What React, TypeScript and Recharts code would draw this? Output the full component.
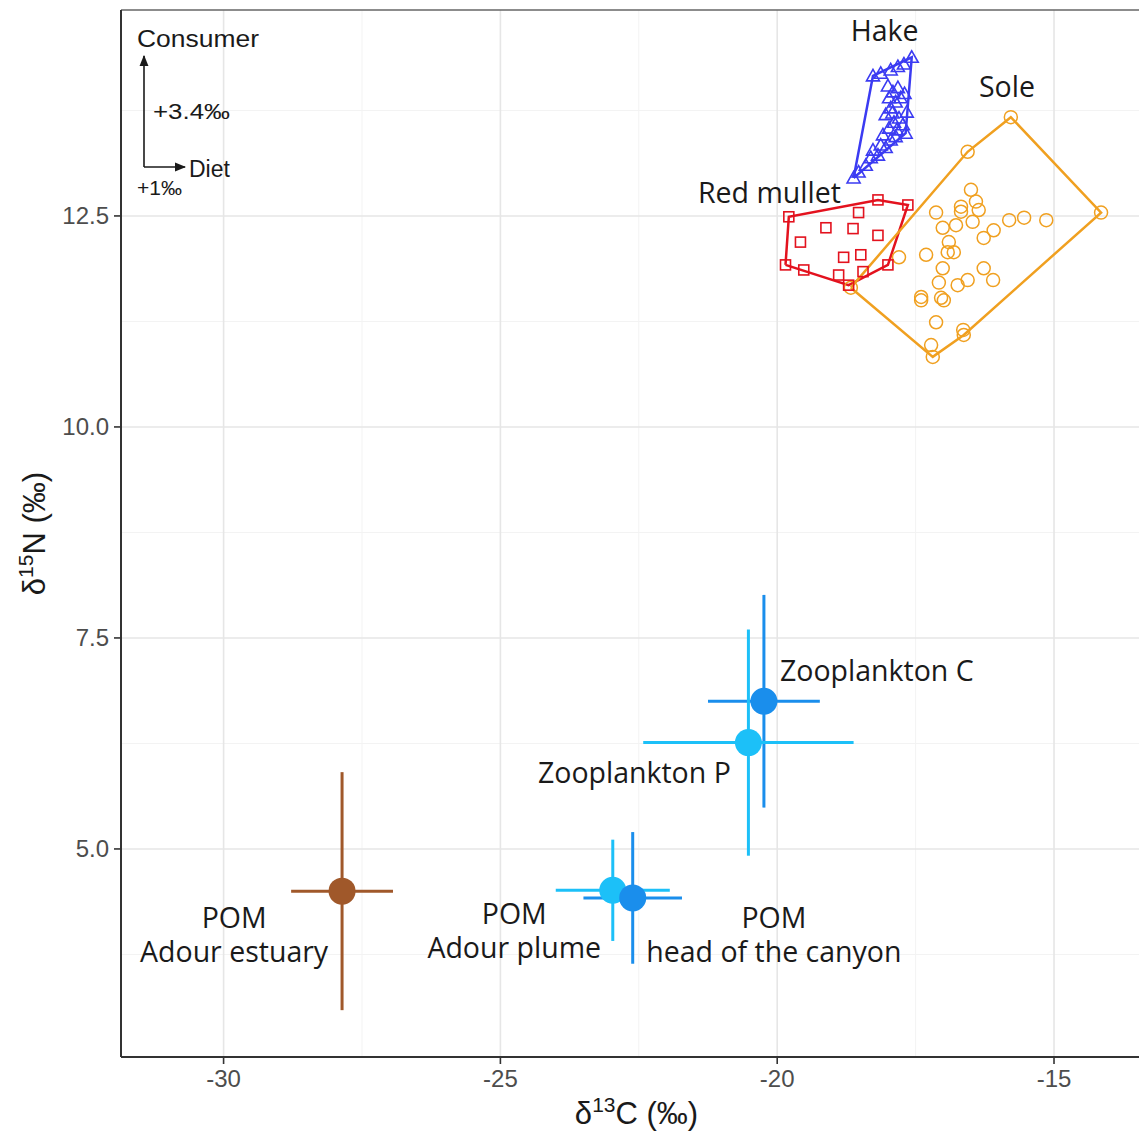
import React from 'react';
import {
  ScatterChart,
  Scatter,
  XAxis,
  YAxis,
  CartesianGrid,
  ErrorBar,
  ReferenceLine,
} from 'recharts';

// axes
const X_MIN = -31.853;
const X_MAX = -13.23;
const Y_MIN = 2.535;
const Y_MAX = 14.94;
const X_TICKS = [-30, -25, -20, -15];
const X_MINOR = [-27.5, -22.5, -17.5];
const Y_TICKS = [5, 7.5, 10, 12.5];
const Y_MINOR = [3.75, 6.25, 8.75, 11.25, 13.75];

// consumers: [d13C, d15N]
const hake: [number, number][] = [
  [-18.62, 12.95], [-18.53, 13.02], [-18.40, 13.10], [-18.31, 13.19], [-18.18, 13.22],
  [-18.27, 13.28], [-18.13, 13.34], [-18.04, 13.31], [-17.95, 13.40], [-17.86, 13.44],
  [-17.68, 13.48], [-18.09, 13.46], [-17.98, 13.54], [-17.89, 13.61], [-17.80, 13.66],
  [-17.66, 13.73], [-18.04, 13.70], [-17.95, 13.78], [-17.86, 13.85], [-17.77, 13.90],
  [-17.98, 13.90], [-17.91, 13.97], [-17.82, 14.02], [-18.00, 14.04], [-18.27, 14.16],
  [-18.13, 14.19], [-17.95, 14.23], [-17.82, 14.27], [-17.71, 14.30], [-17.57, 14.38],
  [-17.73, 13.58], [-17.70, 13.95], [-17.92, 13.72], [-17.84, 13.52],
];

const redMullet: [number, number][] = [
  [-19.79, 12.49], [-18.18, 12.69], [-17.64, 12.63], [-18.53, 12.54], [-19.12, 12.36],
  [-18.63, 12.35], [-18.18, 12.27], [-19.58, 12.19], [-19.85, 11.92], [-19.52, 11.86],
  [-18.80, 12.01], [-18.49, 12.04], [-18.00, 11.92], [-18.89, 11.80], [-18.45, 11.84],
  [-18.71, 11.68],
];

const sole: [number, number][] = [
  [-15.78, 13.67], [-16.56, 13.26], [-14.15, 12.54], [-17.19, 10.83], [-17.22, 10.97],
  [-16.64, 11.15], [-16.63, 11.09], [-17.13, 11.24], [-17.40, 11.50], [-17.40, 11.54],
  [-17.04, 11.53], [-16.99, 11.50], [-17.08, 11.71], [-16.74, 11.68], [-16.56, 11.74],
  [-16.27, 11.88], [-16.10, 11.74], [-17.01, 11.88], [-17.31, 12.04], [-16.92, 12.07],
  [-16.81, 12.07], [-16.90, 12.19], [-17.01, 12.36], [-17.13, 12.54], [-16.77, 12.39],
  [-16.68, 12.61], [-16.68, 12.55], [-16.50, 12.81], [-16.41, 12.67], [-16.36, 12.57],
  [-16.47, 12.43], [-16.27, 12.24], [-16.09, 12.33], [-15.81, 12.45], [-15.54, 12.48],
  [-15.14, 12.45], [-17.80, 12.01], [-18.67, 11.65],
];

// sources: mean +/- sd
const SOURCE_NAMES = ['POM Adour estuary', 'POM Adour plume', 'POM head of the canyon', 'Zooplankton C', 'Zooplankton P'];
const SOURCE_D13C = [-27.86, -22.97, -22.61, -20.24, -20.52];
const SOURCE_D15N = [4.50, 4.51, 4.42, 6.75, 6.26];
const SOURCE_SD13C = [0.92, 1.03, 0.89, 1.01, 1.90];
const SOURCE_SD15N = [1.41, 0.60, 0.78, 1.26, 1.34];
const SOURCE_COLORS = ['#A0582A', '#1CC0F8', '#1A8EEC', '#1A8EEC', '#1CC0F8'];

// label anchors for text (data units)
const LABEL_TEXT = ['Hake', 'Sole', 'Red mullet', 'Zooplankton C', 'Zooplankton P', 'POM\nAdour estuary', 'POM\nAdour plume', 'POM\nhead of the canyon'];
const LABEL_X = [-18.06, -15.85, -20.14, -18.20, -22.58, -29.81, -24.75, -20.06];
const LABEL_Y = [14.70, 14.04, 12.78, 7.12, 5.91, 3.99, 4.04, 3.99];

const HAKE_COLOR = '#3B3BF2';
const MULLET_COLOR = '#E3121E';
const SOLE_COLOR = '#F0A020';

const toPts = (arr: [number, number][]) => arr.map(([x, y]) => ({ x, y }));

function convexHull(pts: { x: number; y: number }[]) {
  const p = [...pts].sort((a, b) => a.x - b.x || a.y - b.y);
  const cross = (o: any, a: any, b: any) => (a.x - o.x) * (b.y - o.y) - (a.y - o.y) * (b.x - o.x);
  const lower: any[] = [];
  for (const q of p) {
    while (lower.length >= 2 && cross(lower[lower.length - 2], lower[lower.length - 1], q) <= 0) lower.pop();
    lower.push(q);
  }
  const upper: any[] = [];
  for (const q of [...p].reverse()) {
    while (upper.length >= 2 && cross(upper[upper.length - 2], upper[upper.length - 1], q) <= 0) upper.pop();
    upper.push(q);
  }
  upper.pop();
  lower.pop();
  const h = lower.concat(upper);
  return [...h, h[0]];
}

const LABEL_FONT = '"Open Sans", "Noto Sans", sans-serif';
const AXIS_FONT = '"Liberation Sans", Arial, sans-serif';

const Triangle = (props: any) => {
  const { cx, cy } = props;
  return (
    <polygon
      points={`${cx},${cy - 6.5} ${cx - 6.5},${cy + 5} ${cx + 6.5},${cy + 5}`}
      fill="none"
      stroke={HAKE_COLOR}
      strokeWidth={1.6}
    />
  );
};

const Square = (props: any) => {
  const { cx, cy } = props;
  return <rect x={cx - 5} y={cy - 5} width={10} height={10} fill="none" stroke={MULLET_COLOR} strokeWidth={1.6} />;
};

const Ring = (props: any) => {
  const { cx, cy } = props;
  return <circle cx={cx} cy={cy} r={6.5} fill="none" stroke={SOLE_COLOR} strokeWidth={1.5} />;
};

const Nothing = () => <g />;

const TextMark = (props: any) => {
  const { cx, cy, payload } = props;
  const lines: string[] = payload.text.split('\n');
  const lh = 34;
  const y0 = cy - ((lines.length - 1) * lh) / 2;
  return (
    <text x={cx} y={y0} textAnchor="middle" dominantBaseline="central" fontFamily={LABEL_FONT} fontSize={28.5} fill="#1a1a1a">
      {lines.map((l, i) => (
        <tspan key={i} x={cx} y={y0 + i * lh} dominantBaseline="central">{l}</tspan>
      ))}
    </text>
  );
};

const XTitle = (props: any) => {
  const { viewBox } = props;
  const cx = viewBox.x + viewBox.width / 2;
  return (
    <text x={cx} y={viewBox.y + 67} textAnchor="middle" fontFamily={AXIS_FONT} fontSize={31} fill="#1a1a1a">
      δ<tspan fontSize={21} dy={-12}>13</tspan><tspan dy={12}>C (‰)</tspan>
    </text>
  );
};

const YTitle = (props: any) => {
  const { viewBox } = props;
  const cy = viewBox.y + viewBox.height / 2;
  const x = 45;
  return (
    <text x={x} y={cy} transform={`rotate(-90, ${x}, ${cy})`} textAnchor="middle" fontFamily={AXIS_FONT} fontSize={31} fill="#1a1a1a">
      δ<tspan fontSize={21} dy={-12}>15</tspan><tspan dy={12}>N (‰)</tspan>
    </text>
  );
};

const App: React.FC = () => {
  const hakePts = toPts(hake);
  const mulletPts = toPts(redMullet);
  const solePts = toPts(sole);
  const sources = SOURCE_NAMES.map((name, i) => ({
    name,
    x: SOURCE_D13C[i],
    y: SOURCE_D15N[i],
    ex: SOURCE_SD13C[i],
    ey: SOURCE_SD15N[i],
    color: SOURCE_COLORS[i],
  }));
  const labels = LABEL_TEXT.map((text, i) => ({ text, x: LABEL_X[i], y: LABEL_Y[i] }));

  return (
    <div style={{ position: 'absolute', left: 0, top: 0, width: 1139, height: 1133, overflow: 'hidden', background: '#fff' }}>
      <ScatterChart width={1152} height={1133} margin={{ top: 10, right: 0, bottom: 0, left: 0 }}>
        <CartesianGrid horizontalValues={Y_MINOR} verticalValues={X_MINOR} stroke="#f3f3f3" strokeWidth={1} />
        <CartesianGrid horizontalValues={Y_TICKS} verticalValues={X_TICKS} stroke="#e6e6e6" strokeWidth={1.6} />
        <XAxis
          type="number"
          dataKey="x"
          domain={[X_MIN, X_MAX]}
          ticks={X_TICKS}
          allowDataOverflow
          height={76}
          tickSize={7}
          tickMargin={6}
          tick={{ fill: '#4d4d4d', fontSize: 24, fontFamily: AXIS_FONT }}
          tickLine={{ stroke: '#333', strokeWidth: 1.6 }}
          axisLine={{ stroke: '#333', strokeWidth: 2 }}
          label={<XTitle />}
        />
        <YAxis
          type="number"
          dataKey="y"
          domain={[Y_MIN, Y_MAX]}
          ticks={Y_TICKS}
          allowDataOverflow
          width={121}
          tickSize={7}
          tickMargin={5}
          tickFormatter={(v: number) => v.toFixed(1)}
          tick={{ fill: '#4d4d4d', fontSize: 24, fontFamily: AXIS_FONT }}
          tickLine={{ stroke: '#333', strokeWidth: 1.6 }}
          axisLine={{ stroke: '#333', strokeWidth: 2 }}
          label={<YTitle />}
        />
        <ReferenceLine y={Y_MAX} stroke="#666" strokeWidth={1.5} />

        {/* hulls */}
        <Scatter data={convexHull(hakePts)} line={{ stroke: HAKE_COLOR, strokeWidth: 2.5 }} stroke={HAKE_COLOR} shape={Nothing} isAnimationActive={false} />
        <Scatter data={convexHull(mulletPts)} line={{ stroke: MULLET_COLOR, strokeWidth: 2.5 }} stroke={MULLET_COLOR} shape={Nothing} isAnimationActive={false} />
        <Scatter data={convexHull(solePts)} line={{ stroke: SOLE_COLOR, strokeWidth: 2.5 }} stroke={SOLE_COLOR} shape={Nothing} isAnimationActive={false} />

        {/* consumers */}
        <Scatter data={solePts} shape={Ring} isAnimationActive={false} />
        <Scatter data={mulletPts} shape={Square} isAnimationActive={false} />
        <Scatter data={hakePts} shape={Triangle} isAnimationActive={false} />

        {/* sources */}
        {sources.map((s, i) => (
          <Scatter
            key={i}
            data={[s]}
            fill={s.color}
            shape={(p: any) => <circle cx={p.cx} cy={p.cy} r={13.5} fill={s.color} />}
            isAnimationActive={false}
          >
            <ErrorBar dataKey="ex" direction="x" width={0} stroke={s.color} strokeWidth={3} />
            <ErrorBar dataKey="ey" direction="y" width={0} stroke={s.color} strokeWidth={3} />
          </Scatter>
        ))}

        {/* text labels */}
        <Scatter data={labels} shape={TextMark} isAnimationActive={false} />
      </ScatterChart>

      <svg
        width={300}
        height={210}
        style={{ position: 'absolute', left: 0, top: 0, pointerEvents: 'none' }}
        fontFamily={AXIS_FONT}
      >
        <defs>
          <marker id="ah" viewBox="0 0 10 10" refX="9" refY="5" markerWidth="7" markerHeight="7" orient="auto-start-reverse">
            <path d="M0,1 L10,5 L0,9 z" fill="#1a1a1a" />
          </marker>
        </defs>
        <text x={137} y={47} fontSize={23} fill="#1a1a1a" textLength={122} lengthAdjust="spacingAndGlyphs">Consumer</text>
        <line x1={144} y1={167} x2={144} y2={56} stroke="#1a1a1a" strokeWidth={1.6} markerEnd="url(#ah)" />
        <line x1={144} y1={167} x2={185} y2={167} stroke="#1a1a1a" strokeWidth={1.6} markerEnd="url(#ah)" />
        <text x={153} y={119} fontSize={22} fill="#1a1a1a" textLength={77} lengthAdjust="spacingAndGlyphs">+3.4‰</text>
        <text x={189} y={177} fontSize={23} fill="#1a1a1a">Diet</text>
        <text x={137} y={195} fontSize={21} fill="#1a1a1a">+1‰</text>
      </svg>
    </div>
  );
};

export default App;
